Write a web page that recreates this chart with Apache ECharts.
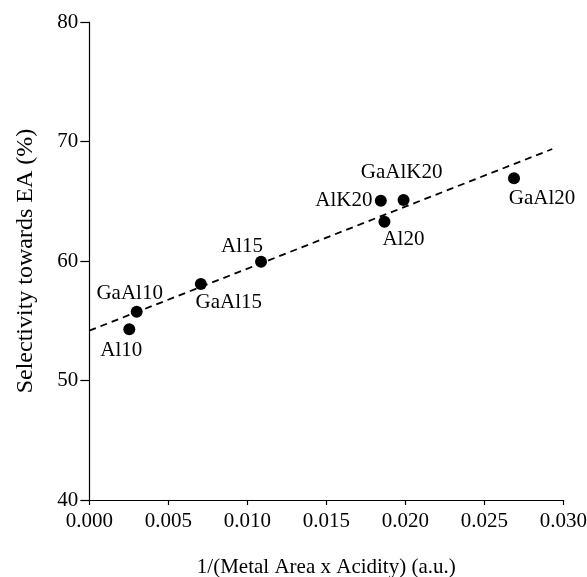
<!DOCTYPE html>
<html>
<head>
<meta charset="utf-8">
<script src="https://cdn.jsdelivr.net/npm/echarts@6/dist/echarts.min.js"></script>
<style>
    html, body { margin: 0; padding: 0; background: #fff; }
    #chart { width: 587px; height: 577px; }
</style>
</head>
<body>
<div id="chart"></div>
<script>
// samples and their measured values
const names = ['Al10', 'GaAl10', 'GaAl15', 'Al15', 'AlK20', 'Al20', 'GaAlK20', 'GaAl20'];
const xValues = [0.00253, 0.00300, 0.00706, 0.01087, 0.01845, 0.01868, 0.01989, 0.02688];
const yValues = [54.28, 55.76, 58.08, 59.94, 65.05, 63.29, 65.10, 66.92];

// dashed trend line end points
const fitX = [0, 0.0293];
const fitY = [54.17, 69.37];

const xTicks = [0, 0.005, 0.010, 0.015, 0.020, 0.025, 0.030];
const yTicks = [40, 50, 60, 70, 80];

// where each label sits relative to its dot
const labelOffsets = {
    'Al10': [-8, 21],
    'GaAl10': [-7, -18],
    'GaAl15': [28, 19],
    'Al15': [-19, -15],
    'AlK20': [-37, 0],
    'Al20': [19, 18],
    'GaAlK20': [-2, -28],
    'GaAl20': [28, 20]
};

const font = 'Liberation Serif';

const points = [];
for (let i = 0; i < names.length; i++) {
    points.push({
        name: names[i],
        value: [xValues[i], yValues[i]],
        label: {
            show: true,
            position: 'inside',
            offset: labelOffsets[names[i]],
            formatter: names[i]
        }
    });
}

const fitData = [];
for (let i = 0; i < fitX.length; i++) {
    fitData.push([fitX[i], fitY[i]]);
}

const chart = echarts.init(document.getElementById('chart'));

const option = {
    animation: false,
    grid: {
        left: 89.3, right: 23.7, top: 22, bottom: 77,
        containLabel: false,
        outerBoundsMode: 'none'
    },
    xAxis: {
        type: 'value',
        min: xTicks[0],
        max: xTicks[xTicks.length - 1],
        interval: 0.005,
        name: '1/(Metal Area x Acidity) (a.u.)',
        nameLocation: 'middle',
        nameGap: 57,
        nameTextStyle: { fontFamily: font, fontSize: 21, color: '#000' },
        axisLine: { lineStyle: { color: '#000', width: 1.2 } },
        axisTick: { length: 5, lineStyle: { color: '#000', width: 1.2 } },
        axisLabel: {
            fontFamily: font, fontSize: 21, color: '#000', margin: 11,
            formatter: v => v.toFixed(3)
        },
        splitLine: { show: false }
    },
    yAxis: {
        type: 'value',
        min: yTicks[0],
        max: yTicks[yTicks.length - 1],
        interval: 10,
        name: 'Selectivity towards EA (%)',
        nameLocation: 'middle',
        nameGap: 52,
        nameTextStyle: { fontFamily: font, fontSize: 24, color: '#000' },
        axisLine: { lineStyle: { color: '#000', width: 1.2 } },
        axisTick: { length: 9, lineStyle: { color: '#000', width: 1.2 } },
        axisLabel: { fontFamily: font, fontSize: 21, color: '#000', margin: 11 },
        splitLine: { show: false }
    },
    series: [{
        type: 'line',
        data: fitData,
        symbol: 'none',
        lineStyle: { color: '#000', width: 1.8, type: [7, 5] },
        silent: true,
        z: 1
    }, {
        type: 'scatter',
        data: points,
        symbolSize: 12,
        itemStyle: { color: '#000', opacity: 1 },
        label: { fontFamily: font, fontSize: 21, color: '#000' },
        z: 2
    }]
};

chart.setOption(option);
</script>
</body>
</html>
